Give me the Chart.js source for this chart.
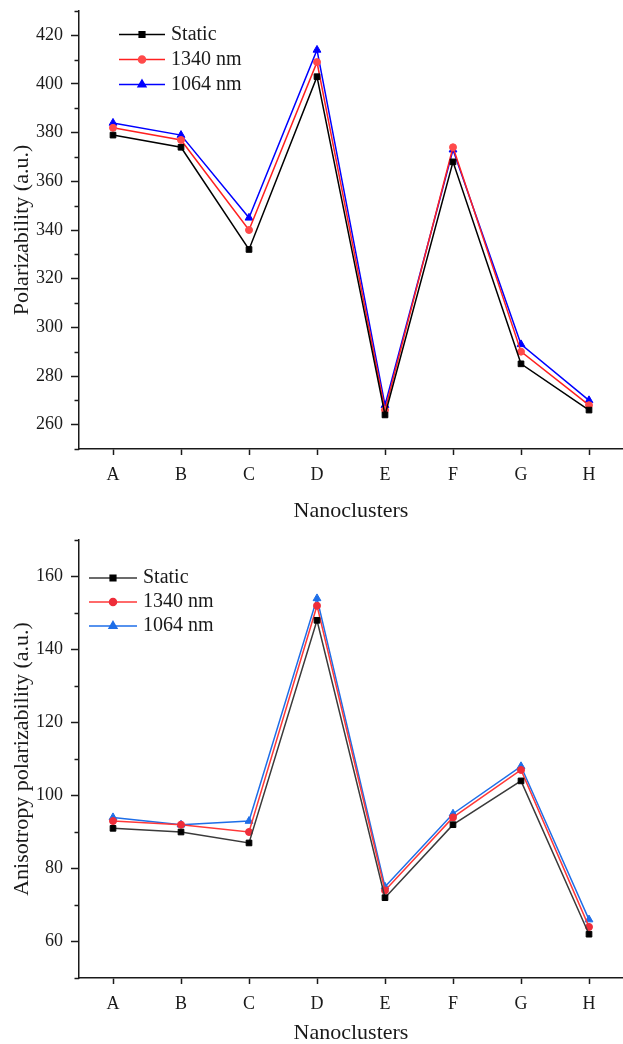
<!DOCTYPE html>
<html>
<head>
<meta charset="utf-8">
<script src="https://cdn.jsdelivr.net/npm/chart.js@4"></script>
<style>
  body { margin: 0; background: #fff; }
  canvas { display: block; }
</style>
</head>
<body>
<canvas id="polChart" width="623" height="522"></canvas>
<canvas id="anisoChart" width="623" height="522"></canvas>
<script>
// data
const categories = ['A', 'B', 'C', 'D', 'E', 'F', 'G', 'H'];

const polStatic = [379, 374, 332, 403, 264, 368, 285, 266];
const pol1340   = [382, 377, 340, 409, 266, 374, 290, 268];
const pol1064   = [384, 379, 345, 414, 268, 373, 293, 270];
const polTicks  = [260, 280, 300, 320, 340, 360, 380, 400, 420];

const anisoStatic = [91, 90, 87, 148, 72, 92, 104, 62];
const aniso1340   = [93, 92, 90, 152, 74, 94, 107, 64];
const aniso1064   = [94, 92, 93, 154, 75, 95, 108, 66];
const anisoTicks  = [60, 80, 100, 120, 140, 160];

const FONT = "'Liberation Serif', 'Times New Roman', serif";
const INK = '#1a1a1a';

// legend drawn inside the plot: short line with the marker in the middle
const lineLegend = {
    id: 'lineLegend',
    afterDraw(chart, args, opts) {
        const ctx = chart.ctx;
        const area = chart.chartArea;
        ctx.save();
        ctx.font = '20px ' + FONT;
        ctx.textBaseline = 'middle';
        chart.data.datasets.forEach((ds, i) => {
            const x0 = area.left + opts.left;
            const y = area.top + opts.top + i * opts.gap;
            ctx.strokeStyle = ds.borderColor;
            ctx.lineWidth = ds.borderWidth;
            ctx.beginPath();
            ctx.moveTo(x0, y);
            ctx.lineTo(x0 + opts.len, y);
            ctx.stroke();
            ctx.fillStyle = ds.pointBackgroundColor;
            ctx.strokeStyle = ds.pointBorderColor;
            Chart.helpers.drawPoint(ctx, {
                pointStyle: ds.pointStyle, radius: ds.pointRadius, borderWidth: 1, rotation: 0
            }, x0 + opts.len / 2, y);
            ctx.fillStyle = INK;
            ctx.fillText(ds.label, x0 + opts.len + 6, y);
        });
        ctx.restore();
    }
};

// short minor ticks on the y axis between labelled ones
const minorTicks = {
    id: 'minorTicks',
    afterDraw(chart) {
        const ctx = chart.ctx;
        const scale = chart.scales.y;
        const left = chart.chartArea.left;
        ctx.save();
        ctx.strokeStyle = INK;
        ctx.lineWidth = 1.5;
        scale.ticks.forEach(t => {
            if (scale.options.majors.includes(t.value)) return;
            const y = Math.round(scale.getPixelForValue(t.value)) + 0.5;
            ctx.beginPath();
            ctx.moveTo(left - 4.5, y);
            ctx.lineTo(left, y);
            ctx.stroke();
        });
        ctx.restore();
    }
};

function series(label, values, color, marker, style, radius) {
    return {
        label: label,
        data: values,
        borderColor: color,
        borderWidth: 1.5,
        pointStyle: style,
        pointRadius: radius,
        pointBackgroundColor: marker,
        pointBorderColor: marker,
        pointBorderWidth: 1,
        tension: 0
    };
}

function makeChart(id, datasets, cfg) {
    return new Chart(document.getElementById(id), {
        type: 'line',
        data: { labels: categories, datasets: datasets },
        options: {
            responsive: false,
            animation: false,
            layout: { autoPadding: false, padding: { top: cfg.padTop, right: 0, left: 0, bottom: 0 } },
            plugins: {
                legend: { display: false },
                tooltip: { enabled: false },
                lineLegend: cfg.legend
            },
            scales: {
                x: {
                    type: 'category',
                    offset: true,
                    afterFit: s => { s.height = cfg.xHeight; s.paddingLeft = 0; s.paddingRight = 0; },
                    border: { display: true, color: INK, width: 1.5 },
                    grid: { drawOnChartArea: false, drawTicks: true, tickLength: 6, tickColor: INK, tickWidth: 1.5 },
                    ticks: { color: INK, padding: 9, font: { family: FONT, size: 18 } },
                    title: {
                        display: true, text: 'Nanoclusters', color: INK,
                        padding: { top: cfg.xTitlePad, bottom: 0 },
                        font: { family: FONT, size: 22, lineHeight: 1 }
                    }
                },
                y: {
                    min: cfg.min,
                    max: cfg.max,
                    majors: cfg.majors,
                    // a tick every 10 units; only the majors get labels
                    afterBuildTicks: s => {
                        const list = [];
                        for (let v = cfg.min; v <= cfg.max; v += 10) list.push({ value: v });
                        s.ticks = list;
                    },
                    afterFit: s => { s.width = 79; s.paddingTop = 0; s.paddingBottom = 0; },
                    border: { display: true, color: INK, width: 1.5 },
                    grid: {
                        drawOnChartArea: false, drawTicks: true, tickLength: 8, tickWidth: 1.5,
                        tickColor: c => cfg.majors.includes(c.tick && c.tick.value) ? INK : 'rgba(0,0,0,0)'
                    },
                    ticks: {
                        color: INK,
                        padding: 8,
                        autoSkip: false,
                        font: { family: FONT, size: 18 },
                        callback: v => cfg.majors.includes(v) ? v : ''
                    },
                    title: {
                        display: true, text: cfg.yTitle, color: INK,
                        padding: { top: 9, bottom: 0 },
                        font: { family: FONT, size: 22, lineHeight: 1.2 }
                    }
                }
            }
        },
        plugins: [lineLegend, minorTicks]
    });
}

makeChart('polChart', [
    series('Static', polStatic, '#000000', '#000000', 'rect', 4),
    series('1340 nm', pol1340, '#ff2020', '#ff4a4a', 'circle', 3.5),
    series('1064 nm', pol1064, '#0000ff', '#0000ff', 'triangle', 4.5)
], {
    padTop: 11, xHeight: 73, xTitlePad: 10,
    min: 250, max: 430, majors: polTicks,
    yTitle: 'Polarizability (a.u.)',
    legend: { left: 40, top: 23.5, gap: 25, len: 46 }
});

makeChart('anisoChart', [
    series('Static', anisoStatic, '#3a3a3a', '#000000', 'rect', 4),
    series('1340 nm', aniso1340, '#ff3838', '#ee2d3a', 'circle', 3.5),
    series('1064 nm', aniso1064, '#1e6ee8', '#1e6ee8', 'triangle', 4.5)
], {
    padTop: 18, xHeight: 66, xTitlePad: 0,
    min: 50, max: 170, majors: anisoTicks,
    yTitle: 'Anisotropy polarizability (a.u.)',
    legend: { left: 10, top: 38, gap: 24, len: 48 }
});
</script>
</body>
</html>
